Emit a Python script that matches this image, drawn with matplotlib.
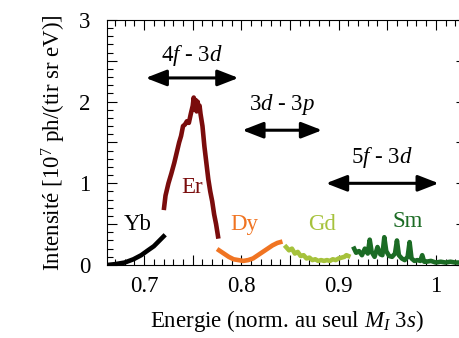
import numpy as np
import matplotlib
matplotlib.use('Agg')
import matplotlib.pyplot as plt
from matplotlib.ticker import MultipleLocator

plt.rcParams['font.family'] = ['Liberation Serif', 'DejaVu Serif']
plt.rcParams['mathtext.fontset'] = 'custom'
plt.rcParams['mathtext.rm'] = 'Liberation Serif'
plt.rcParams['mathtext.it'] = 'Liberation Serif:italic'

# spectra (normalised energy, intensity in 1e7 ph/(tir sr eV))
yb_x = [0.662, 0.670, 0.680, 0.689, 0.697, 0.704, 0.710, 0.715, 0.720]
yb_y = [0.00, 0.01, 0.03, 0.07, 0.12, 0.18, 0.23, 0.29, 0.35]

er_x = [0.7205, 0.722, 0.725, 0.728, 0.731, 0.734, 0.736, 0.738, 0.740, 0.742,
        0.744, 0.746, 0.748, 0.750, 0.751, 0.752, 0.753, 0.754, 0.755, 0.756,
        0.757, 0.758, 0.760, 0.762, 0.764, 0.766, 0.768, 0.770, 0.772, 0.774, 0.776]
er_y = [0.70, 0.85, 1.00, 1.12, 1.25, 1.40, 1.50, 1.58, 1.70, 1.72,
        1.76, 1.74, 1.85, 1.95, 2.05, 1.90, 2.02, 1.88, 2.00, 1.92,
        1.95, 1.85, 1.70, 1.45, 1.25, 1.05, 0.90, 0.78, 0.62, 0.50, 0.35]

dy_x = [0.777, 0.782, 0.787, 0.792, 0.797, 0.802, 0.807, 0.812, 0.817, 0.822,
        0.827, 0.832, 0.837, 0.840]
dy_y = [0.18, 0.14, 0.10, 0.07, 0.06, 0.05, 0.06, 0.08, 0.12, 0.16,
        0.20, 0.24, 0.27, 0.28]

gd_x = [0.846, 0.849, 0.852, 0.855, 0.858, 0.861, 0.864, 0.867, 0.870, 0.873,
        0.876, 0.879, 0.882, 0.885, 0.888, 0.891, 0.894, 0.897, 0.900, 0.903,
        0.906, 0.908, 0.910]
gd_y = [0.22, 0.18, 0.20, 0.14, 0.16, 0.11, 0.12, 0.08, 0.09, 0.06,
        0.07, 0.05, 0.06, 0.05, 0.06, 0.05, 0.07, 0.06, 0.08, 0.09,
        0.10, 0.12, 0.11]

sm_x = [0.916, 0.918, 0.921, 0.924, 0.927, 0.930, 0.932, 0.934, 0.937, 0.940,
        0.943, 0.945, 0.947, 0.949, 0.952, 0.955, 0.958, 0.960, 0.962, 0.965,
        0.968, 0.971, 0.973, 0.975, 0.978, 0.981, 0.984, 0.986, 0.988, 0.990,
        0.995, 1.000, 1.005, 1.010, 1.015, 1.020, 1.025, 1.031]
sm_y = [0.20, 0.15, 0.17, 0.12, 0.20, 0.14, 0.31, 0.16, 0.10, 0.22,
        0.13, 0.12, 0.34, 0.17, 0.11, 0.10, 0.14, 0.30, 0.12, 0.08,
        0.06, 0.10, 0.28, 0.08, 0.05, 0.06, 0.05, 0.12, 0.04, 0.04,
        0.05, 0.03, 0.04, 0.03, 0.04, 0.03, 0.03, 0.03]

series = [
    (yb_x, yb_y, 'Yb', '#000000', 0.693, 0.49),
    (er_x, er_y, 'Er', '#7a0c0c', 0.749, 0.95),
    (dy_x, dy_y, 'Dy', '#f07422', 0.803, 0.49),
    (gd_x, gd_y, 'Gd', '#a6c23c', 0.883, 0.49),
    (sm_x, sm_y, 'Sm', '#1b6b24', 0.971, 0.53),
]

transitions = [
    ('$4f$ - $3d$', 0.7016, 0.797, 2.29, 2.57),
    ('$3d$ - $3p$', 0.801, 0.883, 1.65, 1.96),
    ('$5f$ - $3d$', 0.887, 1.003, 1.00, 1.31),
]

fs = 16.5

fig = plt.figure(figsize=(4.6, 3.38), dpi=100)
ax = fig.add_axes([0.233, 0.216, 0.78, 0.725])

for x, y, name, col, tx, ty in series:
    ax.plot(x, y, color=col, lw=3.3, solid_joinstyle='round')
    ax.text(tx, ty, name, color=col, fontsize=fs, ha='center', va='center')

for lab, x0, x1, ya, yt in transitions:
    ax.annotate('', xy=(x0, ya), xytext=(x1, ya),
                arrowprops=dict(arrowstyle='<|-|>,head_length=0.9,head_width=0.35',
                                color='k', lw=2.2, mutation_scale=14,
                                shrinkA=0, shrinkB=0))
    ax.text((x0 + x1) / 2, yt, lab, fontsize=fs, ha='center', va='center')

ax.set_xlim(0.662, 1.031)
ax.set_ylim(0, 3)
ax.xaxis.set_minor_locator(MultipleLocator(0.01))
ax.yaxis.set_minor_locator(MultipleLocator(0.1))
ax.set_xticks([0.7, 0.75, 0.8, 0.85, 0.9, 0.95, 1.0])
ax.set_xticklabels(['0.7', '', '0.8', '', '0.9', '', '1'])
ax.set_yticks([0, 0.5, 1, 1.5, 2, 2.5, 3])
ax.set_yticklabels(['0', '', '1', '', '2', '', '3'])
ax.tick_params(which='both', direction='in', top=True, right=True, labelsize=fs)
ax.tick_params(which='major', length=7, width=0.8)
ax.tick_params(which='minor', length=4, width=0.8)
ax.tick_params(axis='y', pad=12)
ax.tick_params(axis='x', pad=8)

ax.set_xlabel('Energie (norm. au seul $M_I$ 3$s$)', fontsize=fs, labelpad=8)
ax.set_ylabel('Intensité [10$^7$ ph/(tir sr eV)]', fontsize=fs, labelpad=8)

fig.savefig('out.png', dpi=100)
